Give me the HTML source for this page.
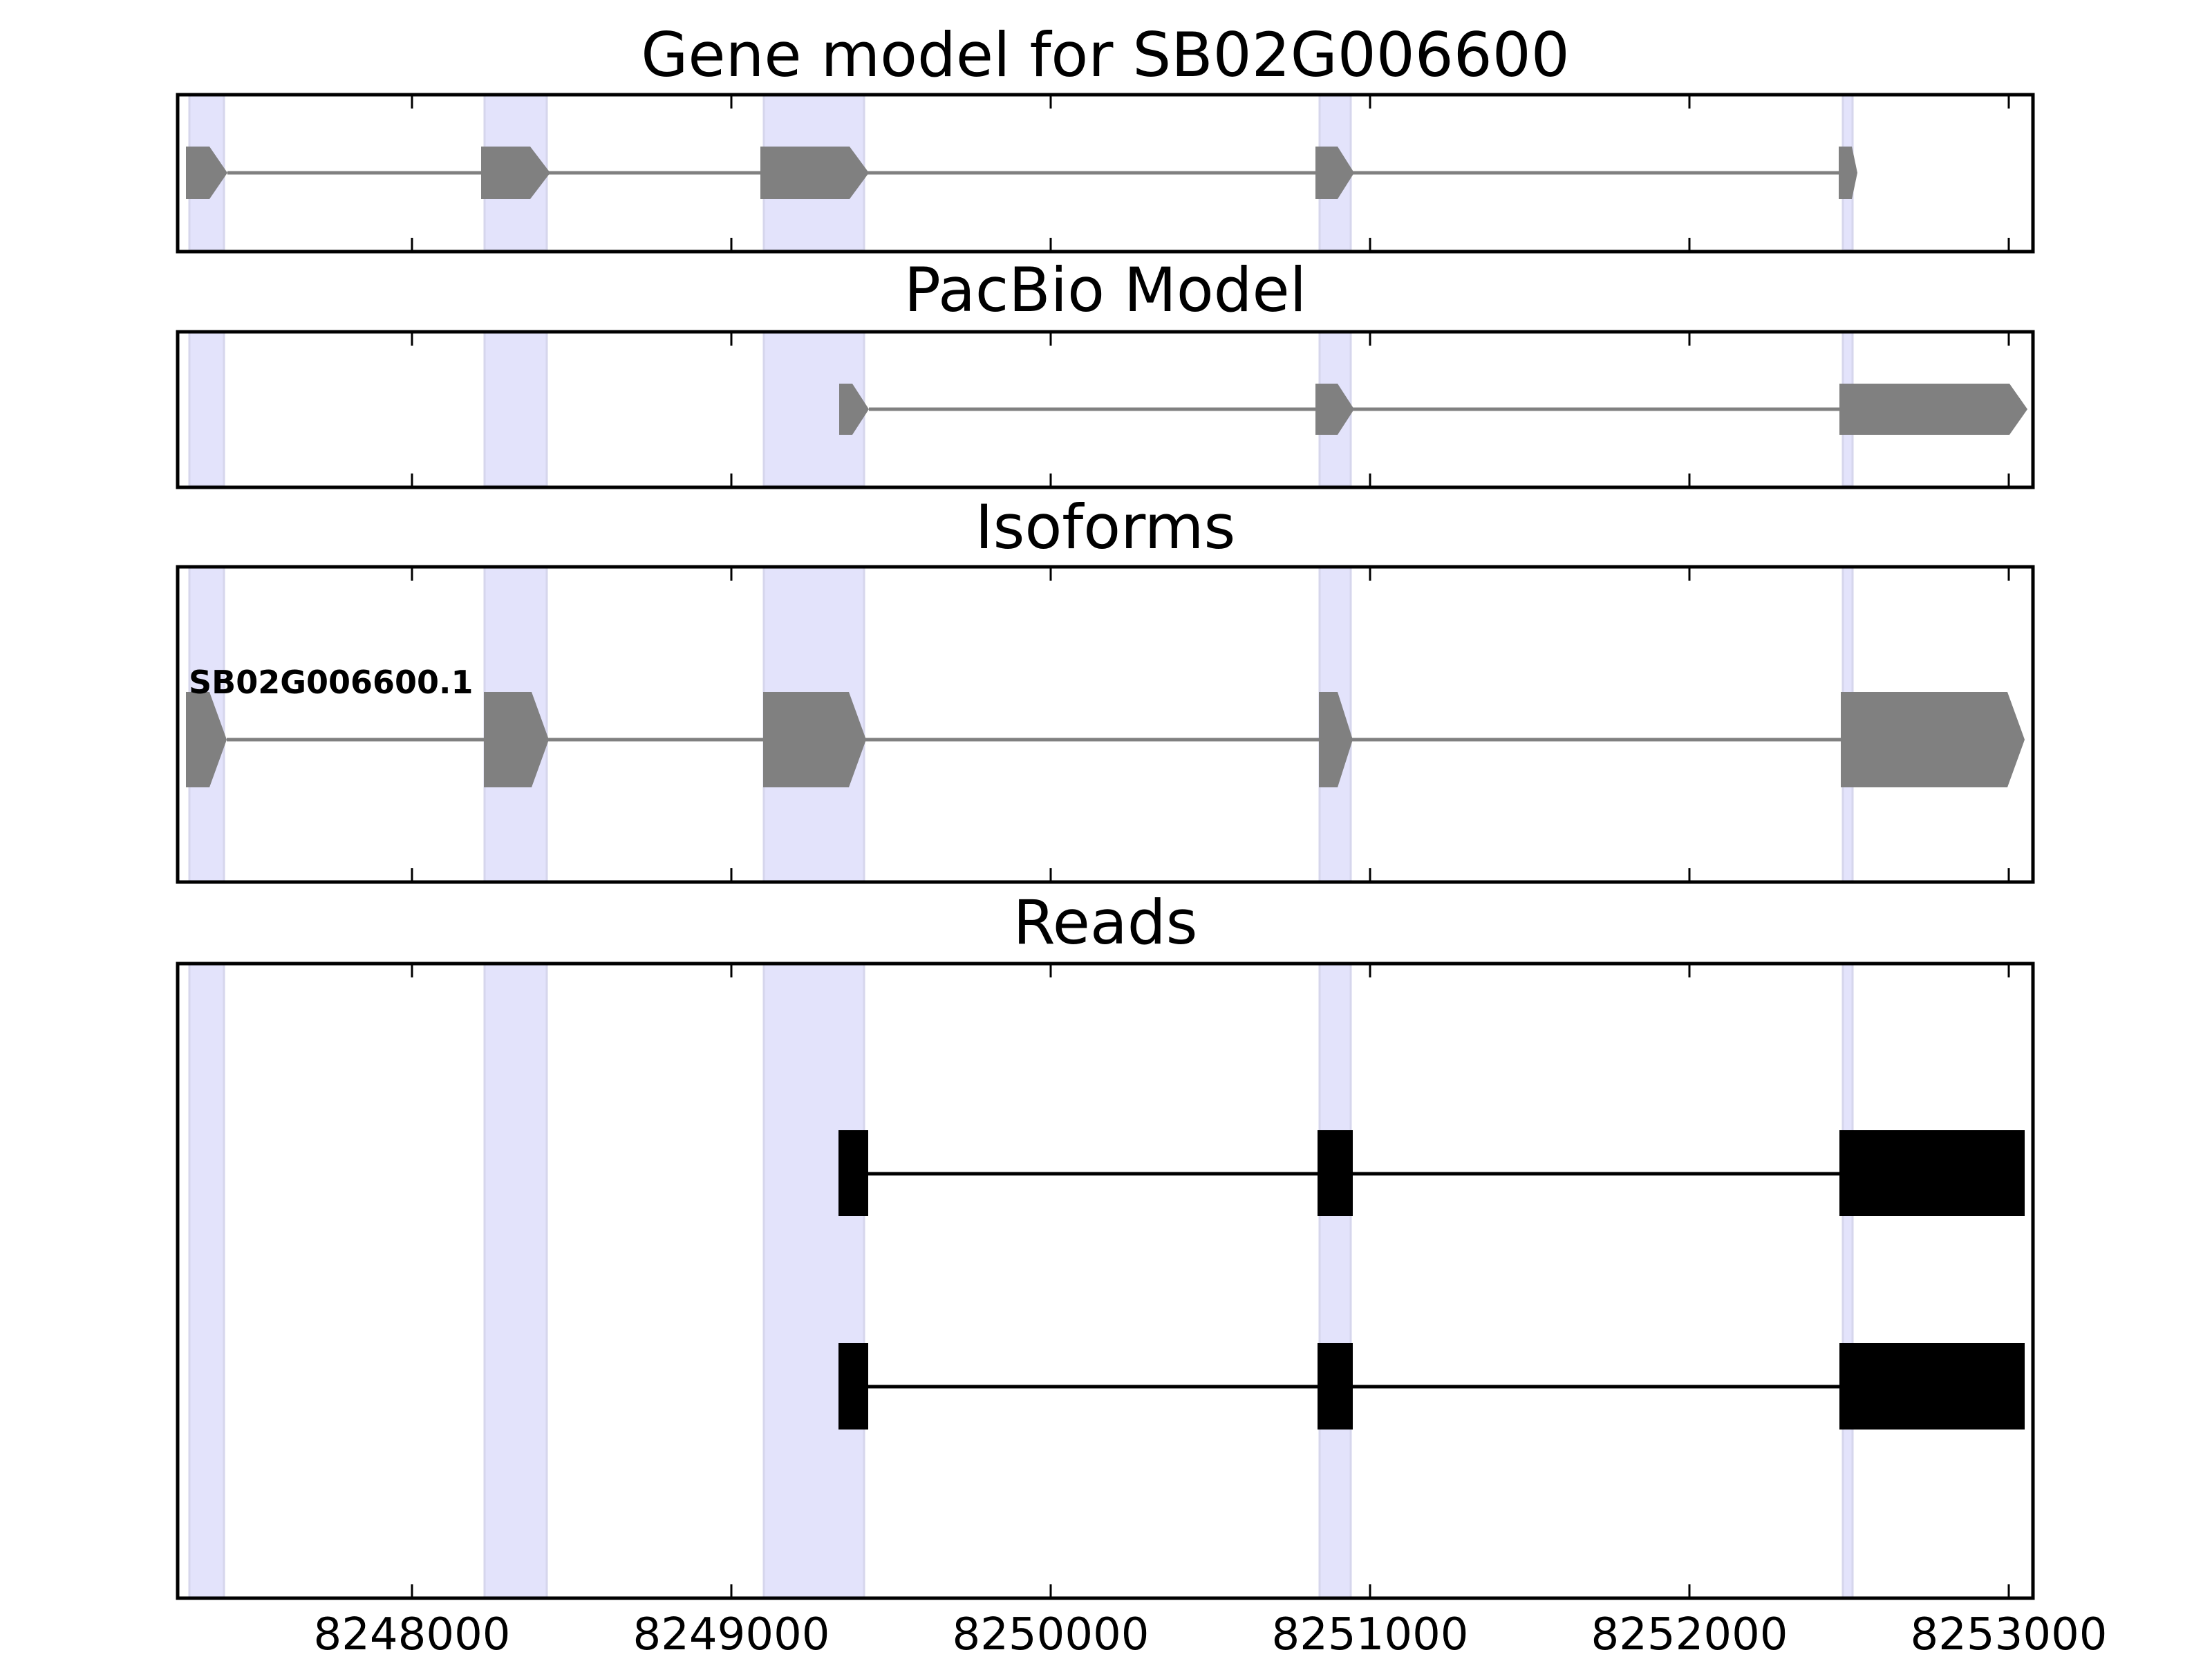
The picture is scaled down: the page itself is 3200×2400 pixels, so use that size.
<!DOCTYPE html>
<html><head><meta charset="utf-8"><style>html,body{margin:0;padding:0;background:#fff}svg{display:block}</style></head>
<body>
<svg width="3200" height="2400" viewBox="0 0 3200 2400" xmlns="http://www.w3.org/2000/svg" font-family="DejaVu Sans, Liberation Sans, sans-serif">
<g fill="#e3e3fb" stroke="#d6d6ec" stroke-width="3">
<rect x="274" y="138" width="50" height="224"/><rect x="701" y="138" width="90" height="224"/><rect x="1105" y="138" width="145" height="224"/><rect x="1909" y="138" width="45" height="224"/><rect x="2666" y="138" width="14" height="224"/>
<rect x="274" y="481" width="50" height="222"/><rect x="701" y="481" width="90" height="222"/><rect x="1105" y="481" width="145" height="222"/><rect x="1909" y="481" width="45" height="222"/><rect x="2666" y="481" width="14" height="222"/>
<rect x="274" y="821" width="50" height="454"/><rect x="701" y="821" width="90" height="454"/><rect x="1105" y="821" width="145" height="454"/><rect x="1909" y="821" width="45" height="454"/><rect x="2666" y="821" width="14" height="454"/>
<rect x="274" y="1395" width="50" height="916"/><rect x="701" y="1395" width="90" height="916"/><rect x="1105" y="1395" width="145" height="916"/><rect x="1909" y="1395" width="45" height="916"/><rect x="2666" y="1395" width="14" height="916"/>
</g>
<g stroke="#808080" stroke-width="5"><line x1="329" y1="250" x2="2661" y2="250"/></g>
<g fill="#808080">
<polygon points="269,212 303,212 329,250 303,288 269,288"/>
<polygon points="696,212 767,212 796,250 767,288 696,288"/>
<polygon points="1100,212 1229,212 1257,250 1229,288 1100,288"/>
<polygon points="1903,212 1935,212 1959,250 1935,288 1903,288"/>
<polygon points="2660,212 2679,212 2687,250 2679,288 2660,288"/>
</g>
<g stroke="#808080" stroke-width="5"><line x1="1257" y1="592" x2="2661" y2="592"/></g>
<g fill="#808080">
<polygon points="1214,555 1233,555 1257,592 1233,629 1214,629"/>
<polygon points="1903,555 1935,555 1959,592 1935,629 1903,629"/>
<polygon points="2661,555 2907,555 2933,592 2907,629 2661,629"/>
</g>
<g stroke="#808080" stroke-width="5"><line x1="328" y1="1070" x2="2663" y2="1070"/></g>
<g fill="#808080">
<polygon points="269,1001 303,1001 328,1070 303,1139 269,1139"/>
<polygon points="700,1001 769,1001 794,1070 769,1139 700,1139"/>
<polygon points="1104,1001 1228,1001 1253,1070 1228,1139 1104,1139"/>
<polygon points="1908,1001 1935,1001 1957,1070 1935,1139 1908,1139"/>
<polygon points="2663,1001 2904,1001 2929,1070 2904,1139 2663,1139"/>
</g>
<text x="273" y="1003" font-size="46" font-weight="bold" fill="#000">SB02G006600.1</text>
<g stroke="#000" stroke-width="5"><line x1="1255" y1="1698" x2="2661" y2="1698"/><line x1="1255" y1="2006" x2="2661" y2="2006"/></g>
<g fill="#000">
<rect x="1213" y="1635" width="43" height="124"/><rect x="1906" y="1635" width="51" height="124"/><rect x="2661" y="1635" width="268" height="124"/>
<rect x="1213" y="1943" width="43" height="125"/><rect x="1906" y="1943" width="51" height="125"/><rect x="2661" y="1943" width="268" height="125"/>
</g>
<g fill="none" stroke="#000" stroke-width="5">
<rect x="257" y="137" width="2684" height="227"/>
<rect x="257" y="480" width="2684" height="225"/>
<rect x="257" y="820" width="2684" height="456"/>
<rect x="257" y="1394" width="2684" height="918"/>
</g>
<g stroke="#000" stroke-width="3">
<path d="M596 137v20M1058 137v20M1520 137v20M1982 137v20M2444 137v20M2906 137v20 M596 364v-20M1058 364v-20M1520 364v-20M1982 364v-20M2444 364v-20M2906 364v-20"/>
<path d="M596 480v20M1058 480v20M1520 480v20M1982 480v20M2444 480v20M2906 480v20 M596 705v-20M1058 705v-20M1520 705v-20M1982 705v-20M2444 705v-20M2906 705v-20"/>
<path d="M596 820v20M1058 820v20M1520 820v20M1982 820v20M2444 820v20M2906 820v20 M596 1276v-20M1058 1276v-20M1520 1276v-20M1982 1276v-20M2444 1276v-20M2906 1276v-20"/>
<path d="M596 1394v20M1058 1394v20M1520 1394v20M1982 1394v20M2444 1394v20M2906 1394v20 M596 2312v-20M1058 2312v-20M1520 2312v-20M1982 2312v-20M2444 2312v-20M2906 2312v-20"/>
</g>
<g font-size="88" text-anchor="middle" fill="#000">
<text x="1599" y="110">Gene model for SB02G006600</text>
<text x="1599" y="450">PacBio Model</text>
<text x="1599" y="793">Isoforms</text>
<text x="1599" y="1365">Reads</text>
</g>
<g font-size="64" text-anchor="middle" fill="#000">
<text x="596" y="2386">8248000</text><text x="1058" y="2386">8249000</text><text x="1520" y="2386">8250000</text><text x="1982" y="2386">8251000</text><text x="2444" y="2386">8252000</text><text x="2906" y="2386">8253000</text>
</g>
</svg>
</body></html>
